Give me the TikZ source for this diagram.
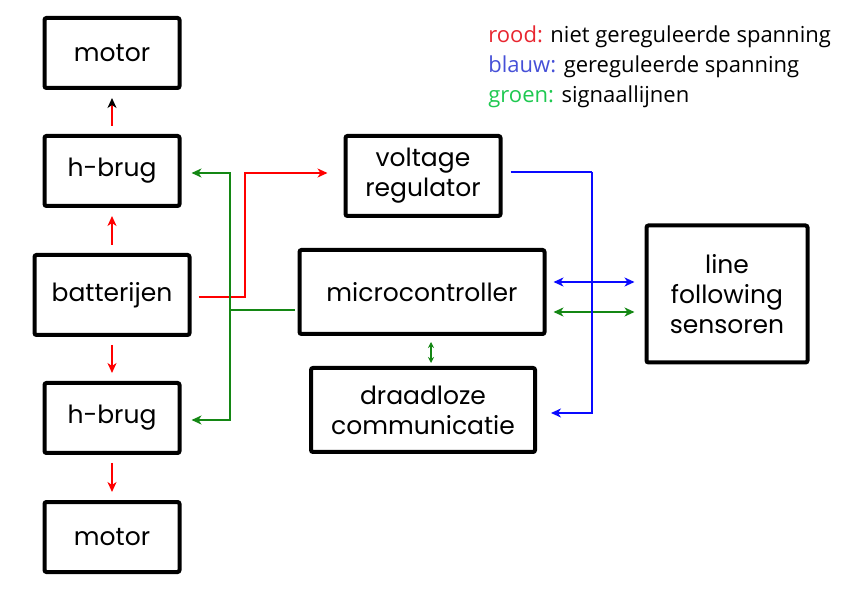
\documentclass[tikz,border=0pt]{standalone}
\usepackage{fontspec}
\setmainfont{Poppins}
\newfontfamily\legendafont{Open Sans}
\usepackage{tikz}
\usetikzlibrary{arrows.meta}
\definecolor{lijnrood}{RGB}{255,0,0}
\definecolor{lijnblauw}{RGB}{10,10,255}
\definecolor{lijngroen}{RGB}{20,135,20}
\definecolor{tekstrood}{RGB}{232,38,48}
\definecolor{tekstblauw}{RGB}{70,80,215}
\definecolor{tekstgroen}{RGB}{30,200,80}
\tikzset{
   blok/.style={draw=black, line width=2pt, rounded corners=1pt,
      align=center, inner sep=0pt, font=\fontsize{12.5}{15}\selectfont},
   klein/.style={blok, minimum width=67.5pt, minimum height=35pt},
   groot/.style={blok, minimum width=77.5pt, minimum height=40pt},
   rood/.style={draw=lijnrood, line width=1pt},
   blauw/.style={draw=lijnblauw, line width=1pt},
   groen/.style={draw=lijngroen, line width=1pt},
   legenda/.style={anchor=base west, inner sep=0pt,
      font=\legendafont\fontsize{11}{13}\selectfont},
   >={Stealth[length=5pt,width=4.5pt,inset=1.5pt]},
   }
\begin{document}
\begin{tikzpicture}[x=0.5pt, y=-0.5pt]
            \useasboundingbox (0,0) rectangle (863,593);
            % blokken links
            \node[klein] (motor1) at (112,53) {motor};
            \node[klein] (hbrug1) at (112,171) {h-brug};
            \node[groot] (bat) at (112,295) {batterijen};
            \node[klein] (hbrug2) at (112,418) {h-brug};
            \node[klein] (motor2) at (112,537) {motor};
            % blokken midden en rechts
            \node[groot] (vreg) at (423,176) {voltage\\regulator};
            \node[blok, minimum width=122.5pt, minimum height=42pt] (mc) at (422,292) {microcontroller};
            \node[blok, minimum width=112pt, minimum height=42pt] (draadloos) at (423,410) {draadloze\\communicatie};
            \node[blok, minimum width=80.5pt, minimum height=68.5pt] (sensor) at (727,294) {line\\following\\sensoren};
            % knikpunten
            \coordinate (roodknik) at (245,297);
            \coordinate (groenknik) at (230,310);
            \coordinate (blauwknik) at (592,172);
            % rood: niet gereguleerd
            \draw[rood, -{Stealth[length=5pt,width=4.5pt,inset=1.5pt,black]}, shorten <=4pt, shorten >=4pt] (hbrug1.north) -- (motor1.south);
            \draw[rood, ->, shorten <=4pt, shorten >=4pt] (bat.north) -- (hbrug1.south);
            \draw[rood, ->, shorten <=4pt, shorten >=4pt] (bat.south) -- (hbrug2.north);
            \draw[rood, ->, shorten <=4pt, shorten >=4pt] (hbrug2.south) -- (motor2.north);
            \draw[rood, ->, shorten >=8pt] (bat.east) ++(7,2) -- (roodknik) |- ([yshift=1.5pt]vreg.west);
            % groen: signalen
            \draw[groen] (mc.west) ++(-3,18) -- (groenknik);
            \draw[groen, ->, shorten >=5pt] (groenknik) |- ([yshift=-1pt]hbrug1.east);
            \draw[groen, ->, shorten >=5pt] (groenknik) |- ([yshift=-1pt]hbrug2.east);
            \draw[groen, <->, shorten <=3.5pt, shorten >=5pt] ([yshift=-10pt]mc.east) -- ([yshift=-10pt]mc.east -| sensor.west);
            \draw[groen, <->, line width=0.8pt, >={Stealth[length=3pt,width=3pt]}, shorten <=3pt, shorten >=1.5pt] ([xshift=4.5pt]mc.south) -- ([xshift=4.5pt]mc.south |- draadloos.north);
            % blauw: gereguleerd
            \draw[blauw] (vreg.east) ++(8,-4) -- (blauwknik);
            \draw[blauw, ->, shorten >=7pt] (blauwknik) |- ([yshift=-1.5pt]draadloos.east);
            \draw[blauw, <->, shorten <=3.5pt, shorten >=5pt] ([yshift=5pt]mc.east) -- ([yshift=5pt]mc.east -| sensor.west);
            % legenda
            \node[legenda] (leg1) at (488,43) {\textcolor{tekstrood}{rood:} niet gereguleerde spanning};
            \node[legenda] (leg2) at (488,73) {\textcolor{tekstblauw}{blauw:} gereguleerde spanning};
            \node[legenda] (leg3) at (488,103) {\textcolor{tekstgroen}{groen:} signaallijnen};
        \end{tikzpicture}
\end{document}
